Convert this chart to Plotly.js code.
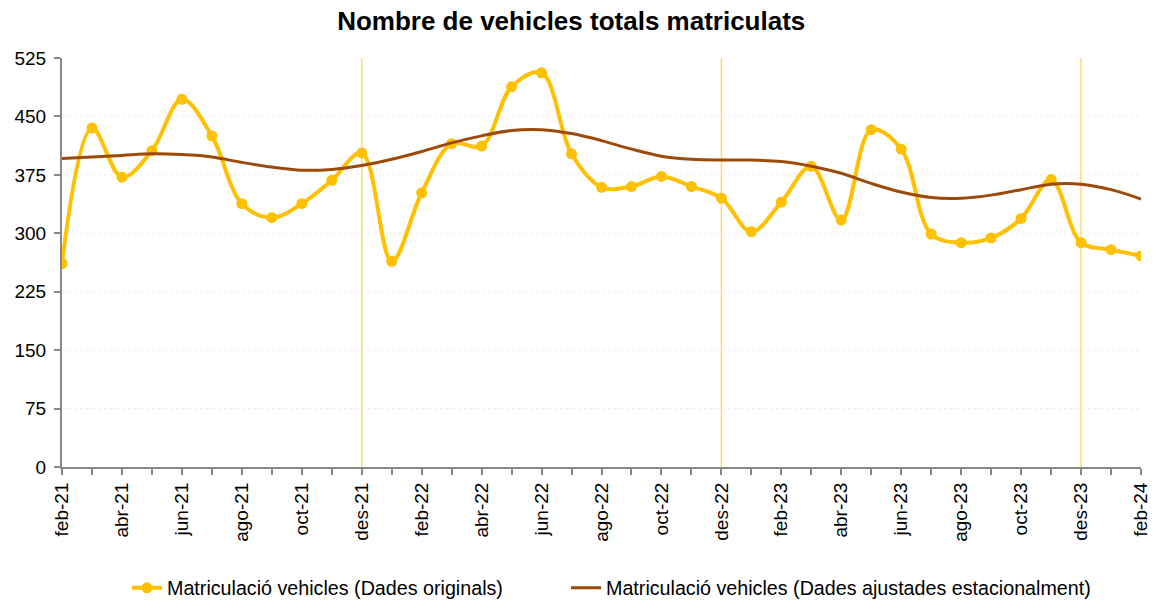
<!DOCTYPE html>
<html>
<head>
<meta charset="utf-8">
<script src="https://cdn.plot.ly/plotly-3.0.1.min.js"></script>
<style>html,body{margin:0;padding:0;background:#fff;}#chart{width:1161px;height:606px;}</style>
</head>
<body>
<div id="chart"></div>
<script>
const months = ['feb-21','mar-21','abr-21','mai-21','jun-21','jul-21','ago-21','set-21','oct-21','nov-21','des-21',
  'gen-22','feb-22','mar-22','abr-22','mai-22','jun-22','jul-22','ago-22','set-22','oct-22','nov-22','des-22',
  'gen-23','feb-23','mar-23','abr-23','mai-23','jun-23','jul-23','ago-23','set-23','oct-23','nov-23','des-23',
  'gen-24','feb-24'];
const originals = [261,435,372,406,472,425,338,320,338,368,403,
  264,352,415,412,488,506,402,359,360,373,360,345,
  302,340,386,317,433,408,299,288,294,319,369,288,
  279,271];
const adjusted = [396,398,400,402,401,398,391,385,381,382,387,
  395,405,416,425,432,433,428,419,408,399,395,394,
  394,392,386,377,364,353,346,345,349,356,363,363,
  356,344];
const yearMarks = ['des-21','des-22','des-23'];
const tickLabels = months.map((m,i) => i % 2 === 0 ? m : '');
const yTicks = [0,75,150,225,300,375,450,525];

const font = 'Liberation Sans, Arial, sans-serif';

const traces = [
  {x: months, y: originals, type: 'scatter', mode: 'lines+markers',
   name: 'Matriculació vehicles (Dades originals)', legend: 'legend',
   line: {color: '#FFC000', width: 4, shape: 'spline', smoothing: 1},
   marker: {color: '#FFC000', size: 11}},
  {x: months, y: adjusted, type: 'scatter', mode: 'lines',
   name: 'Matriculació vehicles (Dades ajustades estacionalment)', legend: 'legend2',
   line: {color: '#9C4A0A', width: 3, shape: 'spline', smoothing: 1}}
];

const shapes = yearMarks.map(m => ({
  type: 'line', xref: 'x', yref: 'y', x0: m, x1: m, y0: 0, y1: 525,
  line: {color: '#FFD966', width: 1.5}, layer: 'below'
}));

const legendFont = {family: font, size: 19.7, color: '#000'};

const layout = {
  width: 1161, height: 606,
  margin: {l: 62, r: 20, t: 58, b: 139},
  paper_bgcolor: '#fff', plot_bgcolor: '#fff',
  title: {text: '<b>Nombre de vehicles totals matriculats</b>', x: 0.492, xanchor: 'center', y: 0.965, yanchor: 'middle',
          font: {family: font, size: 26, color: '#000'}},
  font: {family: font, size: 19, color: '#000'},
  xaxis: {type: 'category', range: [0, months.length - 1], automargin: false,
          tickmode: 'array', tickvals: months, ticktext: tickLabels, tickangle: -90,
          ticks: 'outside', ticklen: 6, tickcolor: '#888', tickwidth: 1.5,
          showline: true, linecolor: '#888', linewidth: 2, showgrid: false, zeroline: false,
          tickfont: {family: font, size: 19, color: '#000'}},
  yaxis: {range: [0, 525], tickmode: 'array', tickvals: yTicks, automargin: false,
          ticks: 'outside', ticklen: 6, tickcolor: '#888', tickwidth: 1.5, ticklabelstandoff: 4,
          showline: true, linecolor: '#888', linewidth: 2,
          showgrid: true, gridcolor: '#eeeeee', gridwidth: 1, griddash: 'dot', zeroline: false,
          tickfont: {family: font, size: 19, color: '#000'}},
  legend: {orientation: 'h', xref: 'container', yref: 'container', x: 127/1161, xanchor: 'left',
           y: 18/606, yanchor: 'middle', font: legendFont},
  legend2: {orientation: 'h', xref: 'container', yref: 'container', x: 566/1161, xanchor: 'left',
           y: 18/606, yanchor: 'middle', font: legendFont},
  shapes: shapes,
  showlegend: true
};

Plotly.newPlot('chart', traces, layout, {displayModeBar: false, responsive: false});
</script>
</body>
</html>
